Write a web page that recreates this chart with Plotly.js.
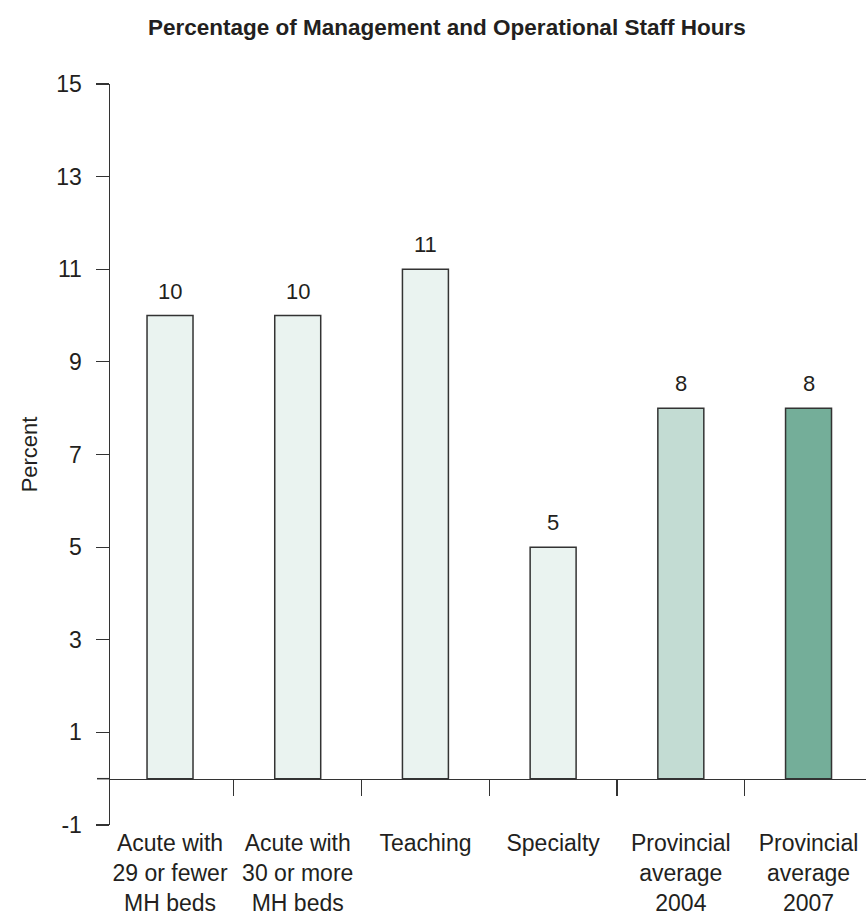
<!DOCTYPE html>
<html>
<head>
<meta charset="utf-8">
<script src="https://cdn.plot.ly/plotly-3.0.1.min.js"></script>
<style>html,body{margin:0;padding:0;background:#fff;}#chart{width:866px;height:915px;}</style>
</head>
<body>
<div id="chart"></div>
<script>
const categories = [
  "Acute with<br>29 or fewer<br>MH beds",
  "Acute with<br>30 or more<br>MH beds",
  "Teaching",
  "Specialty",
  "Provincial<br>average<br>2004",
  "Provincial<br>average<br>2007"
];
const values = [10, 10, 11, 5, 8, 8];
const valueLabels = ["10", "10", "11", "5", "8", "8"];
const barColors = ["#EAF3F0", "#EAF3F0", "#EAF3F0", "#EAF3F0", "#C3DCD3", "#74AE99"];
const yTicks = [-1, 1, 3, 5, 7, 9, 11, 13, 15];
const yRange = [-1, 15];

const textColor = "#231f20";
const lineColor = "#333333";
const font = "Liberation Sans, Arial, sans-serif";

const trace = {
  type: "bar",
  x: categories,
  y: values,
  width: 0.36,
  marker: {color: barColors, line: {color: lineColor, width: 1.5}},
  hoverinfo: "skip"
};

const annotations = categories.map((c, i) => ({
  x: c, y: values[i], xref: "x", yref: "y",
  text: valueLabels[i], showarrow: false,
  yanchor: "bottom", yshift: 10,
  font: {family: font, size: 22, color: textColor}
}));
annotations.push({
  xref: "paper", yref: "paper", x: -0.106, y: 0.5,
  text: "Percent", textangle: -90, showarrow: false,
  xanchor: "center", yanchor: "middle",
  font: {family: font, size: 22, color: textColor}
});

const zeroPos = (0 - yRange[0]) / (yRange[1] - yRange[0]);

const layout = {
  width: 866, height: 915,
  margin: {l: 110, r: 0, t: 84, b: 90},
  paper_bgcolor: "#fff", plot_bgcolor: "#fff",
  showlegend: false,
  title: {
    text: "<b>Percentage of Management and Operational Staff Hours</b>",
    x: 0.516, xref: "container", xanchor: "center",
    y: 0.97, yref: "container", yanchor: "middle",
    font: {family: font, size: 22.5, color: textColor}
  },
  xaxis: {
    type: "category",
    range: [-0.47, 5.45],
    anchor: "free", position: zeroPos,
    showline: true, linecolor: lineColor, linewidth: 1.5,
    ticks: "outside", tickson: "boundaries", ticklen: 16, tickwidth: 1.2, tickcolor: lineColor,
    ticklabelstandoff: 43,
    tickfont: {family: font, size: 23, color: textColor},
    showgrid: false, zeroline: false, fixedrange: true
  },
  yaxis: {
    range: yRange,
    tickvals: yTicks,
    ticktext: yTicks.map(String),
    showline: true, linecolor: lineColor, linewidth: 1.5,
    ticks: "outside", ticklen: 13, tickwidth: 1.2, tickcolor: lineColor,
    ticklabelstandoff: 9,
    tickfont: {family: font, size: 23, color: textColor},
    showgrid: false, zeroline: false, fixedrange: true
  },
  shapes: [{
    type: "line", xref: "paper", yref: "y",
    x0: -13/756, x1: 0, y0: 0, y1: 0,
    line: {color: lineColor, width: 1.5}
  }],
  annotations: annotations
};

Plotly.newPlot("chart", [trace], layout, {displayModeBar: false, staticPlot: true});
</script>
</body>
</html>
